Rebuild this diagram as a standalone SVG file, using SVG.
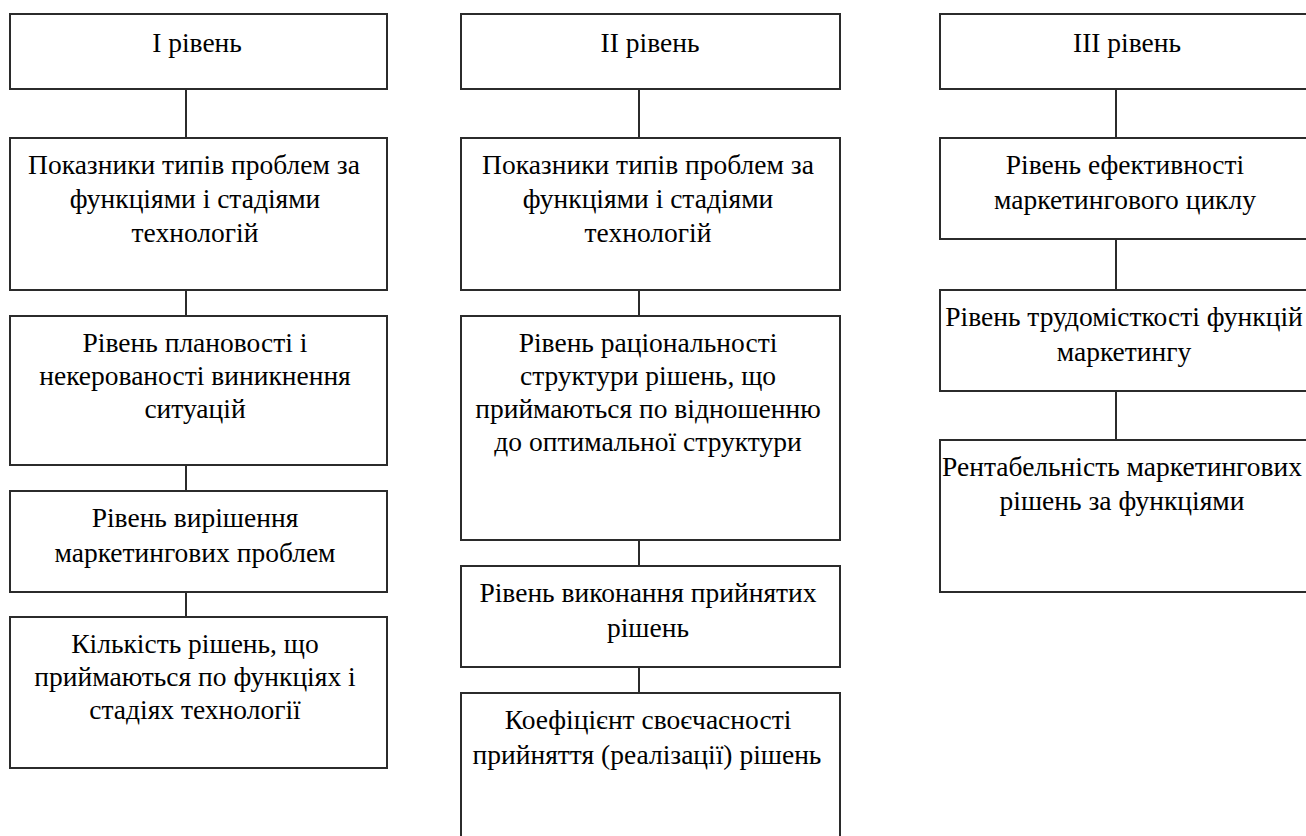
<svg xmlns="http://www.w3.org/2000/svg" width="1306" height="836" viewBox="0 0 1306 836">
<rect width="1306" height="836" fill="#fff"/>
<g id="connectors" stroke="#2b2b2b" stroke-width="2" fill="none">
<line x1="186" y1="89" x2="186" y2="138"/>
<line x1="186" y1="290" x2="186" y2="316"/>
<line x1="186" y1="465" x2="186" y2="491"/>
<line x1="186" y1="592" x2="186" y2="617"/>
<line x1="639" y1="89" x2="639" y2="138"/>
<line x1="639" y1="290" x2="639" y2="316"/>
<line x1="639" y1="540" x2="639" y2="566"/>
<line x1="639" y1="667" x2="639" y2="693"/>
<line x1="1116" y1="89" x2="1116" y2="138"/>
<line x1="1116" y1="239" x2="1116" y2="290"/>
<line x1="1116" y1="391" x2="1116" y2="440"/>
</g>
<g id="boxes" fill="#fff" stroke="#2b2b2b" stroke-width="2">
<rect id="c1n1" x="10" y="14" width="377" height="75"/>
<rect id="c1n2" x="10" y="138" width="377" height="152"/>
<rect id="c1n3" x="10" y="316" width="377" height="149"/>
<rect id="c1n4" x="10" y="491" width="377" height="101"/>
<rect id="c1n5" x="10" y="617" width="377" height="151"/>
<rect id="c2n1" x="461" y="14" width="379" height="75"/>
<rect id="c2n2" x="461" y="138" width="379" height="152"/>
<rect id="c2n3" x="461" y="316" width="379" height="224"/>
<rect id="c2n4" x="461" y="566" width="379" height="101"/>
<rect id="c2n5" x="461" y="693" width="379" height="160"/>
<rect id="c3n1" x="940" y="14" width="380" height="75"/>
<rect id="c3n2" x="940" y="138" width="380" height="101"/>
<rect id="c3n3" x="940" y="290" width="380" height="101"/>
<rect id="c3n4" x="940" y="440" width="380" height="152"/>
</g>
<g id="labels" font-size="27.5" text-anchor="middle">
<text font-family="Liberation Serif" style="font-family:'Liberation Serif',serif" x="197" y="52">І рівень</text>
<text font-family="Liberation Serif" style="font-family:'Liberation Serif',serif" x="194" y="174">Показники типів проблем за</text>
<text font-family="Liberation Serif" style="font-family:'Liberation Serif',serif" x="195" y="208">функціями і стадіями</text>
<text font-family="Liberation Serif" style="font-family:'Liberation Serif',serif" x="195" y="242">технологій</text>
<text font-family="Liberation Serif" style="font-family:'Liberation Serif',serif" x="195" y="352">Рівень плановості і</text>
<text font-family="Liberation Serif" style="font-family:'Liberation Serif',serif" x="195" y="385">некерованості виникнення</text>
<text font-family="Liberation Serif" style="font-family:'Liberation Serif',serif" x="195" y="418">ситуацій</text>
<text font-family="Liberation Serif" style="font-family:'Liberation Serif',serif" x="195" y="527">Рівень вирішення</text>
<text font-family="Liberation Serif" style="font-family:'Liberation Serif',serif" x="195" y="562">маркетингових проблем</text>
<text font-family="Liberation Serif" style="font-family:'Liberation Serif',serif" x="195" y="653">Кількість рішень, що</text>
<text font-family="Liberation Serif" style="font-family:'Liberation Serif',serif" x="195" y="686">приймаються по функціях і</text>
<text font-family="Liberation Serif" style="font-family:'Liberation Serif',serif" x="195" y="719">стадіях технології</text>
<text font-family="Liberation Serif" style="font-family:'Liberation Serif',serif" x="650" y="52">ІІ рівень</text>
<text font-family="Liberation Serif" style="font-family:'Liberation Serif',serif" x="648" y="174">Показники типів проблем за</text>
<text font-family="Liberation Serif" style="font-family:'Liberation Serif',serif" x="648" y="208">функціями і стадіями</text>
<text font-family="Liberation Serif" style="font-family:'Liberation Serif',serif" x="648" y="242">технологій</text>
<text font-family="Liberation Serif" style="font-family:'Liberation Serif',serif" x="648" y="352">Рівень раціональності</text>
<text font-family="Liberation Serif" style="font-family:'Liberation Serif',serif" x="648" y="385">структури рішень, що</text>
<text font-family="Liberation Serif" style="font-family:'Liberation Serif',serif" x="648" y="418">приймаються по відношенню</text>
<text font-family="Liberation Serif" style="font-family:'Liberation Serif',serif" x="648" y="451">до оптимальної структури</text>
<text font-family="Liberation Serif" style="font-family:'Liberation Serif',serif" x="648" y="602">Рівень виконання прийнятих</text>
<text font-family="Liberation Serif" style="font-family:'Liberation Serif',serif" x="648" y="637">рішень</text>
<text font-family="Liberation Serif" style="font-family:'Liberation Serif',serif" x="648" y="729">Коефіцієнт своєчасності</text>
<text font-family="Liberation Serif" style="font-family:'Liberation Serif',serif" x="647" y="764">прийняття (реалізації) рішень</text>
<text font-family="Liberation Serif" style="font-family:'Liberation Serif',serif" x="1127" y="52">ІІІ рівень</text>
<text font-family="Liberation Serif" style="font-family:'Liberation Serif',serif" x="1125" y="174">Рівень ефективності</text>
<text font-family="Liberation Serif" style="font-family:'Liberation Serif',serif" x="1125" y="209">маркетингового циклу</text>
<text font-family="Liberation Serif" style="font-family:'Liberation Serif',serif" x="1124" y="326">Рівень трудомісткості функцій</text>
<text font-family="Liberation Serif" style="font-family:'Liberation Serif',serif" x="1124" y="361">маркетингу</text>
<text font-family="Liberation Serif" style="font-family:'Liberation Serif',serif" x="1122" y="476">Рентабельність маркетингових</text>
<text font-family="Liberation Serif" style="font-family:'Liberation Serif',serif" x="1122" y="510">рішень за функціями</text>
</g>
</svg>
